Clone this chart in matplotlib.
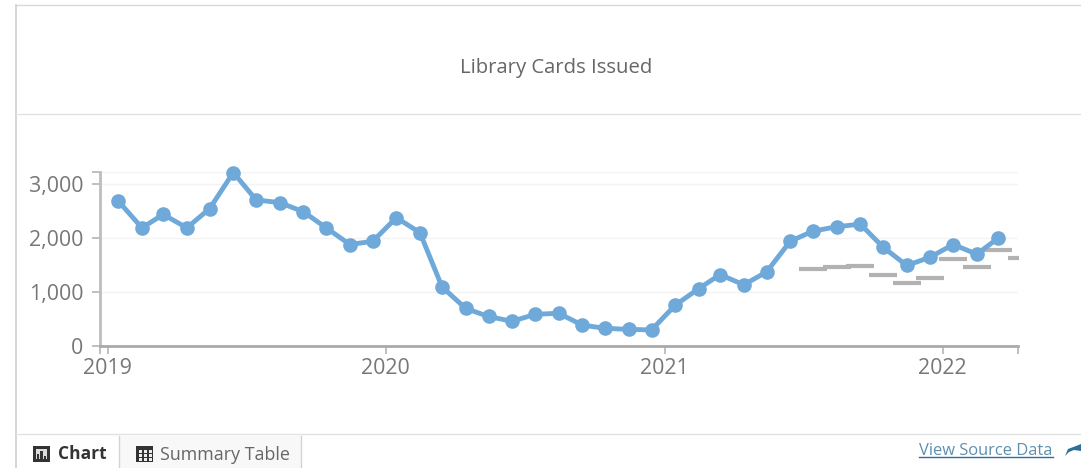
import pandas as pd
import matplotlib
matplotlib.use("Agg")
import matplotlib.pyplot as plt
from matplotlib.lines import Line2D
from matplotlib.patches import Rectangle, Polygon

W = 1081
H = 468

start_month = "2019-01-01"
cards = [2690, 2190, 2440, 2190, 2550, 3220, 2710, 2660, 2490, 2190, 1880, 1940,
         2380, 2100, 1090, 690, 540, 450, 580, 600, 380, 320, 300, 290,
         750, 1060, 1320, 1130, 1370, 1940, 2130, 2210, 2260, 1830, 1490, 1640,
         1880, 1700, 2000]
target_start_month = "2021-07-01"
targets = [1430, 1460, 1480, 1310, 1160, 1250, 1610, 1470, 1770, 1630]
yticks = [0, 1000, 2000, 3000]
year_ticks = ["2019-01-01", "2020-01-01", "2021-01-01", "2022-01-01"]
year_labels = ["2019", "2020", "2021", "2022"]

plt.rcParams["font.family"] = ["Open Sans", "DejaVu Sans"]


def fx(x):
    return x/W


def fy(y):
    return 1 - y/H


def hline(fig, x0, x1, y, color="#e2e2e2", lw=1.0):
    fig.add_artist(Line2D([fx(x0), fx(x1)], [fy(y), fy(y)], color=color, lw=lw))


def vline(fig, x, y0, y1, color="#d4d4d4", lw=1.0):
    fig.add_artist(Line2D([fx(x), fx(x)], [fy(y0), fy(y1)], color=color, lw=lw))


def box(fig, x0, y0, x1, y1, color):
    fig.add_artist(Rectangle((fx(x0), fy(y1)), (x1 - x0)/W, (y1 - y0)/H,
                             transform=fig.transFigure, facecolor=color,
                             edgecolor="none"))


def chrome(fig):
    # panel borders
    hline(fig, 16, W, 5, color="#d8d8d8")
    vline(fig, 16, 5, H, color="#d0d0d0", lw=1.2)
    hline(fig, 16, W, 114)
    hline(fig, 16, W, 434)

    fig.text(fx(556), fy(68), "Library Cards Issued", ha="center", va="center",
             fontsize=14.6, color="#666666")

    # tabs
    box(fig, 120, 436, 301, H, "#f8f8f8")
    vline(fig, 119, 436, H)
    vline(fig, 301, 436, H)

    box(fig, 33, 446, 50, 462, "#333333")
    box(fig, 36, 449, 47, 459, "#dddddd")
    box(fig, 37, 454, 39, 459, "#333333")
    box(fig, 40, 451, 43, 459, "#333333")
    box(fig, 44, 456, 46, 459, "#333333")
    fig.text(fx(58), fy(454), "Chart", ha="left", va="center", fontsize=12.5,
             fontweight="bold", color="#333333")

    box(fig, 136, 446, 153, 462, "#333333")
    for x in (139, 144, 149):
        for y in (450, 454, 458):
            box(fig, x, y, x + 3, y + 2.5, "#eeeeee")
    fig.text(fx(160), fy(454.5), "Summary Table", ha="left", va="center",
             fontsize=12.9, color="#666666")

    # source link
    fig.text(fx(919), fy(451), "View Source Data", ha="left", va="center",
             fontsize=11.9, color="#5f8fb0")
    hline(fig, 919, 1053, 457, color="#2f6f96", lw=1.0)
    arrow = [(1065, 456), (1068, 449), (1076, 446), (1081, 444), (1081, 451),
             (1074, 450), (1069, 452)]
    fig.add_artist(Polygon([(fx(x), fy(y)) for x, y in arrow],
                           transform=fig.transFigure, facecolor="#2f6f96",
                           edgecolor="none"))


def main():
    dates = pd.date_range(start_month, periods=len(cards), freq="MS") + pd.Timedelta(days=14)
    target_dates = pd.date_range(target_start_month, periods=len(targets), freq="MS") + pd.Timedelta(days=14)

    fig = plt.figure(figsize=(W/100, H/100), dpi=100)
    ax = fig.add_axes([fx(100), fy(345.5), (1018 - 100)/W, (345.5 - 172)/H])

    ax.set_xlim(pd.Timestamp("2018-12-22"), pd.Timestamp("2022-04-10"))
    ax.set_ylim(0, 3230)

    ax.grid(axis="y", color="#f3f3f3", lw=1.0)
    ax.set_axisbelow(True)

    ax.plot(target_dates, targets, ls="none", marker="_", ms=20, mew=3,
            color="#b2b2b2", zorder=2)
    ax.plot(dates, cards, color="#6fa9d9", lw=3.5, marker="o", ms=9.5, zorder=3,
            clip_on=False)

    # axis ends get a tick too, the way the original axes do
    ax.set_yticks(yticks + [3230], labels=["0", "1,000", "2,000", "3,000", ""])
    ax.set_xticks([pd.Timestamp("2018-12-22")] + [pd.Timestamp(t) for t in year_ticks]
                  + [pd.Timestamp("2022-04-10")],
                  labels=[""] + year_labels + [""])
    ax.tick_params(axis="both", colors="#b5b5b5", labelcolor="#777777",
                   labelsize=15.4, length=6, width=1.2)
    ax.tick_params(axis="y", pad=6)
    ax.tick_params(axis="x", pad=3)

    ax.spines["top"].set_visible(False)
    ax.spines["right"].set_visible(False)
    ax.spines["left"].set_color("#bdbdbd")
    ax.spines["left"].set_linewidth(2)
    ax.spines["bottom"].set_color("#aaaaaa")
    ax.spines["bottom"].set_linewidth(2)

    chrome(fig)

    fig.savefig("out.png", dpi=100)


if __name__ == "__main__":
    main()
